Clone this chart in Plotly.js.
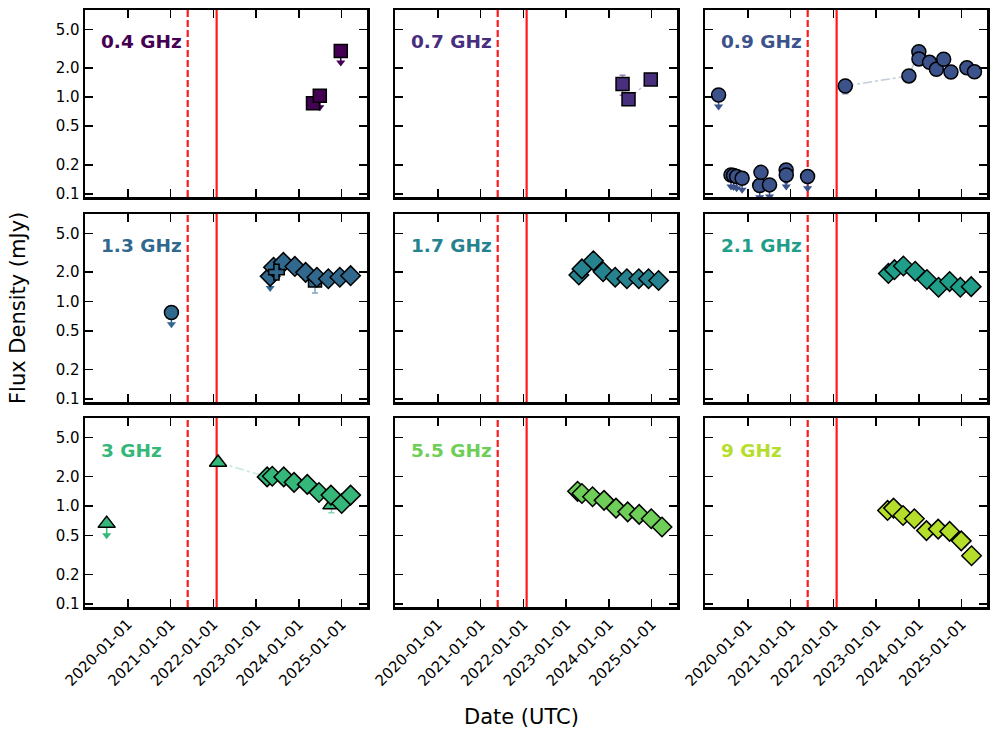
<!DOCTYPE html>
<html>
<head>
<meta charset="utf-8">
<script src="https://cdn.plot.ly/plotly-3.0.1.min.js"></script>
<style>
  body { margin: 0; background: #fff; }
  #chart { width: 997px; height: 738px; }
</style>
</head>
<body>
<div id="chart"></div>
<script>
// bands and colours (viridis-ish, one per panel)
const bands = ['0.4 GHz', '0.7 GHz', '0.9 GHz', '1.3 GHz', '1.7 GHz', '2.1 GHz', '3 GHz', '5.5 GHz', '9 GHz'];
const bandColors = ['#440154', '#472f7d', '#3b528b', '#31688e', '#26828e', '#1f9e89', '#35b779', '#6ece58', '#b5de2b'];

// event markers (dashed, solid)
const eventDates = ['2021-05-27', '2022-01-29'];

// marker codes: s square, o circle, D diamond, ^ triangle, P plus
// ul = 1 -> upper limit
const f04_date = ['2024-05-01', '2024-06-28', '2024-12-24'];
const f04_flux = [0.86, 1.03, 2.98];
const f04_err = [0.05, 0, 0];
const f04_ul = [0, 1, 1];
const f04_mk = ['s', 's', 's'];

const f07_date = ['2024-04-27', '2024-06-17', '2024-12-24'];
const f07_flux = [1.36, 0.95, 1.52];
const f07_err = [0.32, 0.08, 0.06];
const f07_ul = [0, 0, 0];
const f07_mk = ['s', 's', 's'];

const f09_date = ['2019-04-27', '2019-08-11', '2019-09-02', '2019-09-28', '2019-11-14', '2020-04-12', '2020-04-23',
  '2020-07-05', '2020-11-24', '2020-11-25', '2021-05-26', '2022-04-13', '2023-10-08', '2024-01-01', '2024-01-02',
  '2024-04-01', '2024-05-30', '2024-07-31', '2024-10-01', '2025-02-14', '2025-04-20'];
const f09_flux = [1.05, 0.157, 0.155, 0.151, 0.145, 0.122, 0.167, 0.124, 0.177, 0.157, 0.151,
  1.30, 1.65, 2.93, 2.47, 2.28, 1.93, 2.45, 1.81, 2.00, 1.82];
const f09_err = [0, 0, 0, 0, 0, 0, 0, 0, 0, 0, 0, 0.22, 0.12, 0.08, 0.08, 0.07, 0.06, 0.07, 0.06, 0.06, 0.06];
const f09_ul = [1, 1, 1, 1, 1, 1, 1, 1, 1, 1, 1, 0, 0, 0, 0, 0, 0, 0, 0, 0, 0];
const f09_mk = Array(21).fill('o');

const f13_date = ['2021-01-08', '2023-05-01', '2023-05-30', '2023-06-24', '2023-08-22', '2023-11-28', '2024-02-28',
  '2024-05-18', '2024-06-03', '2024-09-09', '2024-12-16', '2025-03-18'];
const f13_flux = [0.77, 1.81, 2.24, 2.00, 2.52, 2.29, 1.99, 1.64, 1.77, 1.71, 1.77, 1.84];
const f13_err = [0, 0, 0.08, 0.22, 0.08, 0.07, 0.06, 0.42, 0.06, 0.05, 0.05, 0.06];
const f13_ul = [1, 1, 0, 0, 0, 0, 0, 0, 0, 0, 0, 0];
const f13_mk = ['o', 'D', 'D', 'P', 'D', 'D', 'D', 's', 'D', 'D', 'D', 'D'];

const f17_date = ['2023-04-20', '2023-05-16', '2023-08-22', '2023-11-13', '2024-02-24', '2024-06-03', '2024-09-13',
  '2024-12-05', '2025-03-01'];
const f17_flux = [1.87, 2.16, 2.62, 2.02, 1.77, 1.71, 1.71, 1.71, 1.64];
const f17_err = [0.06, 0.06, 0.07, 0.06, 0.05, 0.05, 0.05, 0.05, 0.05];
const f17_ul = Array(9).fill(0);
const f17_mk = Array(9).fill('D');

const f21_date = ['2023-04-16', '2023-06-07', '2023-08-22', '2023-12-01', '2024-03-10', '2024-06-17', '2024-09-20',
  '2024-12-20', '2025-03-23'];
const f21_flux = [1.94, 2.12, 2.31, 2.04, 1.68, 1.40, 1.60, 1.40, 1.42];
const f21_err = [0.06, 0.06, 0.06, 0.06, 0.05, 0.04, 0.05, 0.04, 0.04];
const f21_ul = Array(9).fill(0);
const f21_mk = Array(9).fill('D');

const f30_date = ['2019-07-05', '2022-02-10', '2023-04-05', '2023-05-19', '2023-08-25', '2023-11-21', '2024-03-13',
  '2024-06-21', '2024-10-01', '2024-10-05', '2025-01-01', '2025-03-18'];
const f30_flux = [0.66, 2.78, 1.98, 2.01, 1.98, 1.74, 1.66, 1.37, 1.29, 1.02, 1.06, 1.29];
const f30_err = [0, 0.15, 0.05, 0.05, 0.05, 0.05, 0.05, 0.04, 0.04, 0.17, 0.04, 0.04];
const f30_ul = [1, 0, 0, 0, 0, 0, 0, 0, 0, 0, 0, 0];
const f30_mk = ['^', '^', 'D', 'D', 'D', 'D', 'D', 'D', 'D', '^', 'D', 'D'];

const f55_date = ['2023-04-09', '2023-05-16', '2023-08-15', '2023-11-21', '2024-03-02', '2024-06-10', '2024-09-16',
  '2024-12-28', '2025-03-30'];
const f55_flux = [1.41, 1.34, 1.24, 1.14, 0.95, 0.87, 0.82, 0.74, 0.61];
const f55_err = [0.04, 0.04, 0.04, 0.03, 0.03, 0.03, 0.03, 0.02, 0.02];
const f55_ul = Array(9).fill(0);
const f55_mk = Array(9).fill('D');

const f90_date = ['2023-04-09', '2023-05-30', '2023-08-19', '2023-11-24', '2024-03-06', '2024-06-14', '2024-09-20',
  '2024-12-28', '2025-03-26'];
const f90_flux = [0.90, 0.95, 0.80, 0.74, 0.56, 0.58, 0.55, 0.44, 0.31];
const f90_err = [0.03, 0.03, 0.03, 0.03, 0.02, 0.02, 0.02, 0.02, 0.02];
const f90_ul = Array(9).fill(0);
const f90_mk = Array(9).fill('D');

const panels = [
  [f04_date, f04_flux, f04_err, f04_ul, f04_mk],
  [f07_date, f07_flux, f07_err, f07_ul, f07_mk],
  [f09_date, f09_flux, f09_err, f09_ul, f09_mk],
  [f13_date, f13_flux, f13_err, f13_ul, f13_mk],
  [f17_date, f17_flux, f17_err, f17_ul, f17_mk],
  [f21_date, f21_flux, f21_err, f21_ul, f21_mk],
  [f30_date, f30_flux, f30_err, f30_ul, f30_mk],
  [f55_date, f55_flux, f55_err, f55_ul, f55_mk],
  [f90_date, f90_flux, f90_err, f90_ul, f90_mk]
];

const yTicks = [0.1, 0.2, 0.5, 1, 2, 5];
const yTickText = ['0.1', '0.2', '0.5', '1.0', '2.0', '5.0'];
const xTicks = ['2020-01-01', '2021-01-01', '2022-01-01', '2023-01-01', '2024-01-01', '2025-01-01'];

const symbolOf = { s: 'square', o: 'circle', D: 'diamond', '^': 'triangle-up', P: 'cross' };
const sizeOf = { s: 13, o: 14, D: 15, '^': 15, P: 13 };
const UL_FRAC = 0.76;

function rgba(hex, a) {
  const n = parseInt(hex.slice(1), 16);
  return `rgba(${(n >> 16) & 255},${(n >> 8) & 255},${n & 255},${a})`;
}

// pixel layout of the 3x3 grid
const W = 997, H = 738;
const colX = [[85, 367], [395, 677], [705, 987]];
const rowY = [[10, 197], [214, 402], [418, 607]];

const traces = [];
const shapes = [];
const annotations = [];
const layout = {
  width: W, height: H,
  margin: { l: 0, r: 0, t: 0, b: 0 },
  paper_bgcolor: '#fff', plot_bgcolor: '#fff',
  showlegend: false,
  font: { family: 'DejaVu Sans', color: '#000' }
};

panels.forEach((p, i) => {
  const [dates, flux, err, ul, mk] = p;
  const color = bandColors[i];
  const row = Math.floor(i / 3), col = i % 3;
  const xa = i === 0 ? 'x' : 'x' + (i + 1);
  const ya = i === 0 ? 'y' : 'y' + (i + 1);

  // faint dash-dot line through detections
  const det = dates.map((d, k) => k).filter(k => !ul[k]);
  det.sort((a, b) => new Date(dates[a]) - new Date(dates[b]));
  traces.push({
    x: det.map(k => dates[k]), y: det.map(k => flux[k]),
    xaxis: xa, yaxis: ya, mode: 'lines', hoverinfo: 'skip',
    line: { color: rgba(color, 0.3), width: 1.5, dash: 'dashdot' }
  });

  // upper limit arrows
  const lim = dates.map((d, k) => k).filter(k => ul[k]);
  if (lim.length) {
    traces.push({
      x: lim.map(k => dates[k]), y: lim.map(k => flux[k] * UL_FRAC),
      xaxis: xa, yaxis: ya, mode: 'markers',
      marker: { symbol: 'triangle-down', size: 8, color: color, line: { width: 0 } },
      error_y: {
        type: 'data', symmetric: false,
        array: lim.map(k => flux[k] * (1 - UL_FRAC)), arrayminus: lim.map(() => 0),
        width: 0, thickness: 1.5, color: color
      }
    });
  }

  // markers, one trace per symbol
  ['o', 's', '^', 'D', 'P'].forEach(code => {
    const idx = dates.map((d, k) => k).filter(k => mk[k] === code);
    if (!idx.length) return;
    traces.push({
      x: idx.map(k => dates[k]), y: idx.map(k => flux[k]),
      xaxis: xa, yaxis: ya, mode: 'markers',
      marker: { symbol: symbolOf[code], size: sizeOf[code], color: color, line: { color: '#000', width: 1.5 } },
      error_y: { type: 'data', array: idx.map(k => ul[k] ? 0 : err[k]), width: 3, thickness: 1.5, color: rgba(color, 0.6) }
    });
  });

  const axKey = i === 0 ? '' : String(i + 1);
  layout['xaxis' + axKey] = {
    domain: [colX[col][0] / W, colX[col][1] / W],
    anchor: ya,
    type: 'date',
    range: ['2019-01-01', '2025-08-05'],
    tickvals: xTicks,
    ticktext: xTicks,
    tickangle: -45,
    showticklabels: row === 2,
    ticks: 'inside', ticklen: 8, tickwidth: 1.5, tickcolor: '#000',
    showline: true, linewidth: 2.5, linecolor: '#000', mirror: 'allticks',
    showgrid: false, zeroline: false,
    tickfont: { family: 'DejaVu Sans', size: 15, color: '#000' }
  };
  layout['yaxis' + axKey] = {
    domain: [1 - rowY[row][1] / H, 1 - rowY[row][0] / H],
    anchor: xa,
    type: 'log',
    range: [Math.log10(0.093), Math.log10(7.9)],
    tickvals: yTicks,
    ticktext: yTickText,
    showticklabels: col === 0,
    ticks: 'inside', ticklen: 8, tickwidth: 1.5, tickcolor: '#000',
    showline: true, linewidth: 2.5, linecolor: '#000', mirror: 'allticks',
    showgrid: false, zeroline: false,
    tickfont: { family: 'DejaVu Sans', size: 15, color: '#000' }
  };

  eventDates.forEach((d, e) => {
    shapes.push({
      type: 'line', xref: xa, yref: ya + ' domain',
      x0: d, x1: d, y0: 0, y1: 1, layer: 'below',
      line: { color: 'rgba(255,0,0,0.9)', width: 2.2, dash: e === 0 ? '7px,3px' : 'solid' }
    });
  });

  annotations.push({
    xref: xa + ' domain', yref: ya + ' domain', x: 0.05, y: 0.83,
    xanchor: 'left', yanchor: 'middle', showarrow: false,
    text: '<b>' + bands[i] + '</b>',
    font: { family: 'DejaVu Sans', size: 18.5, color: color }
  });
});

annotations.push({
  xref: 'paper', yref: 'paper', x: 18 / W, y: 1 - 308 / H, textangle: -90,
  xanchor: 'center', yanchor: 'middle',
  showarrow: false, text: 'Flux Density (mJy)',
  font: { family: 'DejaVu Sans', size: 21, color: '#000' }
});
annotations.push({
  xref: 'paper', yref: 'paper', x: 521 / W, y: 1 - 717 / H,
  xanchor: 'center', yanchor: 'middle',
  showarrow: false, text: 'Date (UTC)',
  font: { family: 'DejaVu Sans', size: 21, color: '#000' }
});

layout.shapes = shapes;
layout.annotations = annotations;

Plotly.newPlot('chart', traces, layout, { displayModeBar: false, staticPlot: true });
</script>
</body>
</html>
